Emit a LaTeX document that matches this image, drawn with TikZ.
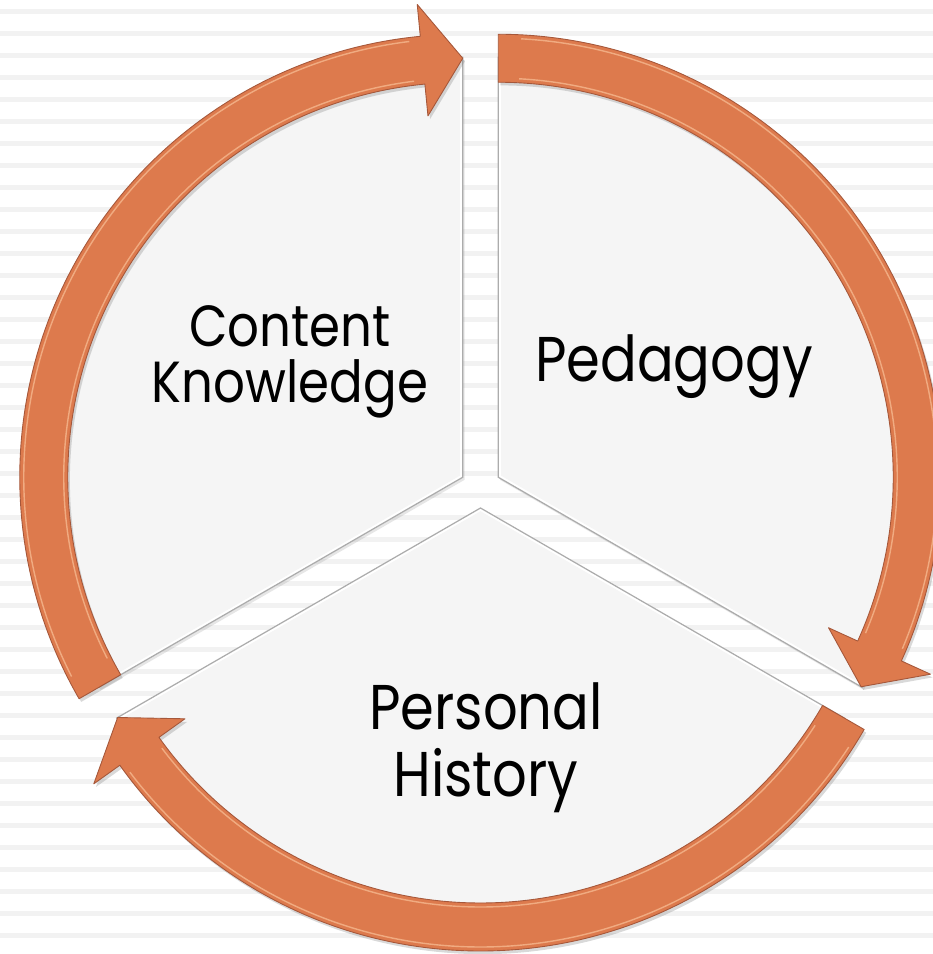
\documentclass[tikz,border=0pt]{standalone}
\usepackage{fontspec}
\setmainfont[FakeStretch=0.86]{Poppins}
\usetikzlibrary{calc,shadows}

\definecolor{stripegray}{HTML}{F2F2F2}
\definecolor{sectorgray}{HTML}{F5F5F5}
\definecolor{edgegray}{HTML}{ACACAC}
\definecolor{arroworange}{HTML}{DD7A4D}
\definecolor{arrowedge}{HTML}{A5573A}
\definecolor{arrowlight}{HTML}{F7BC93}

\tikzset{
	sector/.style={fill=white,draw=edgegray,line width=0.7pt,drop shadow={shadow xshift=1pt,shadow yshift=-1.5pt,opacity=0.2}},
	sectorface/.style={fill=sectorgray},
	cyclearrow/.style={fill=arroworange,draw=arrowedge,line width=0.5pt,line join=round,drop shadow={shadow xshift=1.2pt,shadow yshift=-1.8pt,opacity=0.3}},
	shine/.style={draw=arrowlight,line width=0.8pt,opacity=0.75},
	sectortext/.style={align=center,inner sep=0pt}
}

% one sector of the pie, seen from its own corner
\newcommand{\sectorpath}[2]{(0,0) -- (#1:420) arc[start angle=#1,end angle=#2,radius=420] -- cycle}
% curved arrow from tail angle #1 to tip angle #2 (clockwise)
\newcommand{\cyclearrowpath}[2]{(#1:443) arc[start angle=#1,end angle=#2+5.5,radius=443] -- (#2+5.5:475) -- (#2:419) -- (#2+5.5:363) -- (#2+5.5:395) arc[start angle=#2+5.5,end angle=#1,radius=395] -- cycle}

\begin{document}
\begin{tikzpicture}[x=0.02cm,y=0.02cm]
		\useasboundingbox (0,0) rectangle (933,954);
		% lined paper
		\foreach \k in {0,...,42}
			\fill[stripegray] (0,{954-9.5-22*\k}) rectangle (933,{954-14-22*\k});

		\coordinate(ck) at (462.75,476.75);
		\coordinate(ped) at (498.25,476.75);
		\coordinate(ph) at (480.5,446);

		% the three sectors
		\begin{scope}[shift={(ck)}]
			\draw[sector] \sectorpath{90}{210};
			\fill[sectorface,shift={(150:232)},scale=0.986,shift={(150:-232)}] \sectorpath{90}{210};
		\end{scope}
		\begin{scope}[shift={(ped)}]
			\draw[sector] \sectorpath{-30}{90};
			\fill[sectorface,shift={(30:232)},scale=0.986,shift={(30:-232)}] \sectorpath{-30}{90};
		\end{scope}
		\begin{scope}[shift={(ph)}]
			\draw[sector] \sectorpath{210}{330};
			\fill[sectorface,shift={(270:232)},scale=0.986,shift={(270:-232)}] \sectorpath{210}{330};
		\end{scope}

		% the arrows round them
		\begin{scope}[shift={(ck)}]
			\draw[cyclearrow] \cyclearrowpath{210}{90};
			\draw[shine] (207:439) arc[start angle=207,end angle=97,radius=439];
			\draw[shine] (207:399) arc[start angle=207,end angle=97,radius=399];
		\end{scope}
		\begin{scope}[shift={(ped)}]
			\draw[cyclearrow] \cyclearrowpath{90}{-30};
			\draw[shine] (87:439) arc[start angle=87,end angle=-23,radius=439];
			\draw[shine] (87:399) arc[start angle=87,end angle=-23,radius=399];
		\end{scope}
		\begin{scope}[shift={(ph)}]
			\draw[cyclearrow] \cyclearrowpath{-30}{-150};
			\draw[shine] (-33:439) arc[start angle=-33,end angle=-143,radius=439];
			\draw[shine] (-33:399) arc[start angle=-33,end angle=-143,radius=399];
		\end{scope}

		\node[sectortext,font=\fontsize{33}{32}\selectfont] (content) at (290,592) {Content\\Knowledge};
		\node[sectortext,font=\fontsize{36}{38}\selectfont,anchor=base] (pedagogy) at (674,572) {Pedagogy};
		\node[sectortext,font=\fontsize{36}{38}\selectfont] (history) at (486,206) {Personal\\History};
\end{tikzpicture}
\end{document}
